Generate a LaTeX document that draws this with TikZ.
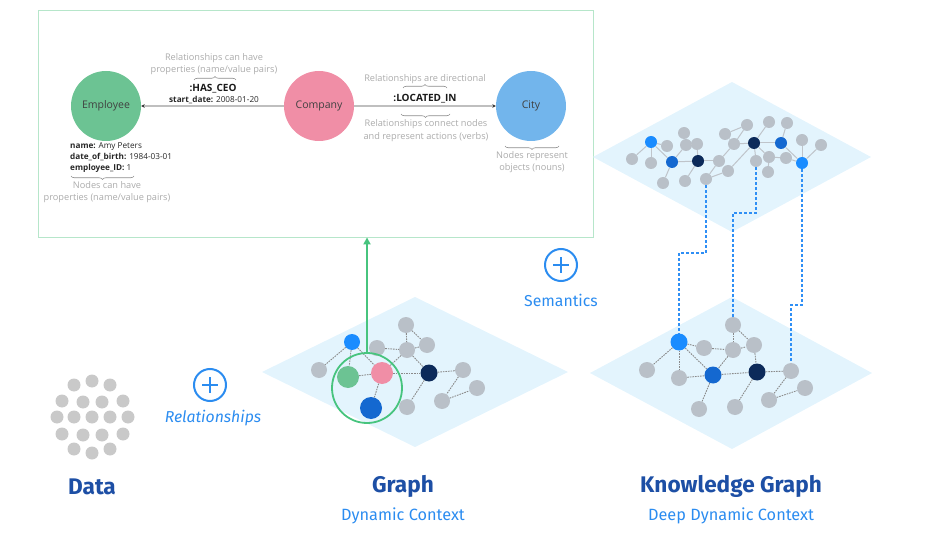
\documentclass[tikz,border=0pt]{standalone}
\usepackage{fontspec}
\setmainfont{Open Sans}
\newfontfamily\titlefont{Fira Sans}
\usetikzlibrary{arrows.meta,decorations.pathreplacing,calc}
\definecolor{ngray}{HTML}{B9C0C8}
\definecolor{dotgray}{HTML}{C9C9C9}
\definecolor{bblue}{HTML}{1A8CFF}
\definecolor{mblue}{HTML}{1468D0}
\definecolor{navy}{HTML}{0C2A5A}
\definecolor{ngreen}{HTML}{6CC393}
\definecolor{npink}{HTML}{F08EA6}
\definecolor{nblue}{HTML}{72B5EC}
\definecolor{dia}{HTML}{E3F4FD}
\definecolor{boxgreen}{HTML}{B6E6CA}
\definecolor{focusgreen}{HTML}{47C47E}
\definecolor{txtgray}{HTML}{ABABAB}
\definecolor{titleblue}{HTML}{1D4FA5}
\definecolor{subblue}{HTML}{2B8CF0}
\definecolor{kgdot}{HTML}{2F8FF5}
\definecolor{edgegray}{HTML}{8A8A8A}
\definecolor{topedge}{HTML}{BFC4CA}
\tikzset{
  gdot/.style={circle, fill=ngray, inner sep=0pt, minimum size=16pt},
  bigdot/.style={circle, inner sep=0pt, minimum size=22pt},
  tdot/.style={circle, fill=ngray, inner sep=0pt, minimum size=12pt},
  datadot/.style={circle, fill=dotgray, inner sep=0pt, minimum size=13pt},
  dedge/.style={draw=edgegray, line width=0.9pt, dash pattern=on 1.6pt off 1pt},
  tedge/.style={draw=topedge, line width=1pt},
  kgline/.style={draw=kgdot, line width=1.8pt, dash pattern=on 2.6pt off 2.4pt},
  bignode/.style={circle, inner sep=0pt, minimum size=70pt, font=\fontsize{10.5}{12}\selectfont, text=black!75},
  rel/.style={draw=black!25, line width=1.2pt, -{Stealth[length=3.5pt,width=3.5pt,black!80]}},
  graytxt/.style={text=txtgray, font=\fontsize{9.2}{12.5}\selectfont, align=center, inner sep=0pt},
  proptxt/.style={text=black!85, font=\fontsize{8.2}{11}\selectfont, align=left, inner sep=0pt},
  reltxt/.style={text=black!90, font=\fontsize{10}{11}\selectfont\bfseries, inner sep=0pt},
  brc/.style={draw=black!45, line width=0.6pt, decorate, decoration={brace, amplitude=3.5pt}},
  plusicon/.style={circle, draw=subblue, line width=2pt, minimum size=32pt, inner sep=0pt},
  plusbar/.style={draw=subblue, line width=2.4pt},
  titletxt/.style={text=titleblue, font=\titlefont\bfseries\fontsize{22.6}{26}\selectfont, inner sep=0pt},
  subtxt/.style={text=subblue, font=\titlefont\fontsize{16.3}{19}\selectfont, inner sep=0pt},
  itxt/.style={text=subblue, font=\titlefont\itshape\fontsize{15.8}{18}\selectfont, inner sep=0pt},
}
\begin{document}
\begin{tikzpicture}[x=1pt,y=-1pt]
\useasboundingbox (0,0) rectangle (937,548);

% ---------- top explanatory box ----------
\node[draw=boxgreen, line width=0.9pt, minimum width=555pt, minimum height=227pt, inner sep=0pt] (box) at (315.5,123.5) {};
\node[bignode, fill=ngreen] (emp) at (106,106) {Employee};
\node[bignode, fill=npink] (comp) at (319,106) {Company};
\node[bignode, fill=nblue] (city) at (531,106) {City};
\draw[rel] (comp) -- (emp);
\draw[rel] (comp) -- (city);

\node[graytxt] (t1) at (214,64) {Relationships can have\\properties (name/value pairs)};
\draw[brc] (194,80) -- (236,80);
\node[reltxt] (hasceo) at (213,89) {:HAS\_CEO};
\node[proptxt] (sdate) at (214,100) {\textbf{start\_date:} 2008-01-20};

\node[graytxt] (t2) at (425,79) {Relationships are directional};
\draw[brc] (403,88) -- (447,88);
\node[reltxt] (located) at (425,99) {:LOCATED\_IN};
\draw[brc] (450,114) -- (401,114);
\node[graytxt] (t3) at (426,130.5) {Relationships connect nodes\\and represent actions (verbs)};

\draw[brc] (559,146) -- (505,146);
\node[graytxt] (t4) at (532,162) {Nodes represent\\objects (nouns)};

\node[proptxt, anchor=west] (props) at (70,158) {\textbf{name:} Amy Peters\\\textbf{date\_of\_birth:} 1984-03-01\\\textbf{employee\_ID:} 1};
\draw[brc] (134,176) -- (71,176);
\node[graytxt] (t5) at (107,192) {Nodes can have\\properties (name/value pairs)};

% ---------- diamonds ----------
\fill[dia] (262,372) -- (415,297) -- (568,372) -- (415,447) -- cycle;
\fill[dia] (590,373) -- (732,297) -- (872,373) -- (732,449) -- cycle;
\fill[dia] (593,157) -- (732,82) -- (871,157) -- (732,232) -- cycle;

% ---------- data dots ----------
\foreach \n/\x/\y in {d1/74/385, d2/92/381, d3/110/385,
  d4/62/401, d5/83/402, d6/102/402, d7/123/401,
  d8/57/417, d9/74/417, d10/92/417, d11/110/417, d12/128/417,
  d13/62/434, d14/83/435, d15/102/435, d16/123/434,
  d17/74/449, d18/92/453, d19/110/449}
  \node[datadot] (\n) at (\x,\y) {};

% ---------- middle graph ----------
\node[gdot, fill=bblue] (m1) at (352,342) {};
\node[gdot] (m2) at (319,370) {};
\node[bigdot, fill=ngreen] (m3) at (348,377) {};
\node[bigdot, fill=npink] (m4) at (382,373) {};
\node[bigdot, fill=mblue] (m5) at (371,408) {};
\node[gdot] (m6) at (377,348) {};
\node[gdot] (m7) at (407,350) {};
\node[gdot] (m8) at (406,325) {};
\node[gdot] (m9) at (427,345) {};
\node[gdot, fill=navy, minimum size=17pt] (m10) at (429,373) {};
\node[gdot] (m11) at (463,370) {};
\node[gdot] (m12) at (477,388) {};
\node[gdot] (m13) at (442,401) {};
\node[gdot] (m14) at (407,407) {};
\foreach \a/\b in {m1/m2, m1/m3, m1/m4, m3/m4, m4/m5, m4/m7, m6/m7, m8/m7, m8/m9, m7/m9,
  m4/m10, m7/m10, m10/m11, m10/m14, m11/m13, m13/m12}
  \draw[dedge] (\a) -- (\b);
\node[circle, draw=focusgreen, line width=1.8pt, minimum size=70pt, inner sep=0pt] (focus) at (367,388) {};
\draw[draw=focusgreen, line width=2pt, -{Triangle[length=7pt,width=7pt]}] (focus.north) -- (focus.north |- box.south);

% ---------- knowledge graph: bottom layer ----------
\node[gdot, fill=bblue, minimum size=17pt] (b1) at (679,342) {};
\node[gdot] (b2) at (704,348) {};
\node[gdot] (b3) at (733,325) {};
\node[gdot] (b4) at (733,350) {};
\node[gdot] (b5) at (754,345) {};
\node[gdot] (b6) at (647,370) {};
\node[gdot] (b7) at (679,378) {};
\node[gdot, fill=mblue, minimum size=17pt] (b8) at (713,375) {};
\node[gdot, fill=navy, minimum size=17pt] (b9) at (757,372) {};
\node[gdot] (b10) at (791,371) {};
\node[gdot] (b11) at (805,388) {};
\node[gdot] (b12) at (769,400) {};
\node[gdot] (b13) at (699,409) {};
\node[gdot] (b14) at (735,407) {};
\foreach \a/\b in {b1/b6, b1/b7, b1/b8, b1/b2, b2/b4, b3/b4, b3/b5, b4/b5, b4/b8, b7/b8,
  b8/b9, b8/b13, b5/b9, b9/b10, b9/b14, b10/b12, b12/b11}
  \draw[dedge] (\a) -- (\b);

% ---------- knowledge graph: top layer ----------
\foreach \n/\x/\y in {t2/632/159, t3/651/163, t4/667/146, t6/684/133, t7/686/145, t8/697/144,
  t10/663/183, t11/685/181, t12/706/179, t13/719/161, t14/725/134, t15/734/144, t16/747/125,
  t17/728/171, t19/769/122, t20/756/161, t21/769/157, t22/768/172, t24/787/123, t25/786/158,
  t26/802/140, t28/821/145}
  \node[tdot] (\n) at (\x,\y) {};
\node[tdot, fill=bblue] (ta) at (651,142) {};
\node[tdot, fill=mblue] (t5) at (672,162) {};
\node[tdot, fill=navy] (t9) at (698,161) {};
\node[tdot, fill=navy] (t18) at (754,143) {};
\node[tdot, fill=mblue] (t23) at (781,143) {};
\node[tdot, fill=bblue] (t27) at (802,163) {};
\foreach \a/\b in {ta/t2, ta/t4, ta/t5, ta/t3, t5/t9, t5/t10, t6/t7, t7/t8, t7/t5, t8/t9,
  t9/t11, t9/t13, t13/t12, t12/t17, t17/t18, t14/t16, t16/t15, t14/t15, t15/t18, t13/t15,
  t18/t19, t18/t23, t18/t20, t18/t21, t21/t22, t21/t25, t23/t24, t23/t27, t26/t27, t27/t28, t25/t27}
  \draw[tedge] (\a) -- (\b);

% ---------- connectors between layers ----------
\coordinate (k1) at (706,253);
\coordinate (k2) at (756,213);
\coordinate (k3) at (802,305);
\draw[kgline] (t12.south) -- (k1) -- (k1 -| b1) -- (b1.north);
\draw[kgline] (t20.south) -- (k2) -- (k2 -| b3) -- (b3.north);
\draw[kgline] (t27.south) -- (k3) -- (k3 -| b10) -- (b10.north);

% ---------- plus icons ----------
\node[plusicon] (plusA) at (210,385) {};
\draw[plusbar] ($(plusA)+(-8,0)$) -- ($(plusA)+(8,0)$);
\draw[plusbar] ($(plusA)+(0,-8)$) -- ($(plusA)+(0,8)$);
\node[itxt] (relA) at (213,418) {Relationships};
\node[plusicon] (plusB) at (561,265) {};
\draw[plusbar] ($(plusB)+(-8,0)$) -- ($(plusB)+(8,0)$);
\draw[plusbar] ($(plusB)+(0,-8)$) -- ($(plusB)+(0,8)$);
\node[itxt, font=\titlefont\fontsize{15.8}{18}\selectfont] (semA) at (561,300) {Semantics};

% ---------- titles ----------
\node[titletxt] (data) at (92,487) {Data};
\node[titletxt] (graph) at (403,486) {Graph};
\node[subtxt] (dyn) at (403,516) {Dynamic Context};
\node[titletxt] (kg) at (731,486) {Knowledge Graph};
\node[subtxt] (ddyn) at (731,516) {Deep Dynamic Context};
\end{tikzpicture}
\end{document}
